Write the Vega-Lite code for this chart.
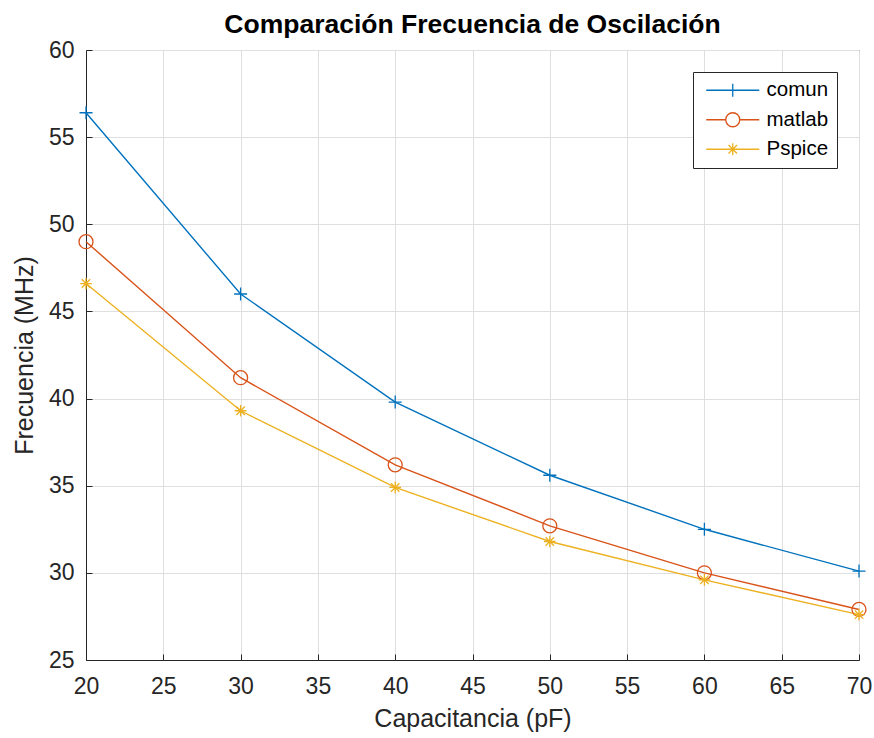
{
  "$schema": "https://vega.github.io/schema/vega-lite/v6.json",
  "width": 773,
  "height": 610,
  "autosize": {"type": "none"},
  "padding": {"left": 86, "top": 50, "right": 15, "bottom": 78},
  "background": "white",
  "title": {
    "text": "Comparación Frecuencia de Oscilación",
    "font": "Liberation Sans",
    "fontSize": 26.5,
    "fontWeight": "bold",
    "color": "#000000",
    "anchor": "middle",
    "baseline": "alphabetic",
    "offset": -20
  },
  "config": {
    "view": {"stroke": "#262626", "strokeWidth": 1},
    "font": "Liberation Sans",
    "axis": {
      "domainColor": "#262626",
      "tickColor": "#262626",
      "labelColor": "#262626",
      "titleColor": "#262626",
      "labelFont": "Liberation Sans",
      "titleFont": "Liberation Sans",
      "labelFontSize": 23,
      "titleFontSize": 25,
      "titleFontWeight": "normal",
      "gridColor": "#dfdfdf",
      "gridWidth": 1,
      "tickSize": -6,
      "tickWidth": 1,
      "labelFlush": false
    }
  },
  "data": {
    "values": [
      {"C": 20, "f": 56.4, "serie": "comun"},
      {"C": 30, "f": 46.0, "serie": "comun"},
      {"C": 40, "f": 39.8, "serie": "comun"},
      {"C": 50, "f": 35.6, "serie": "comun"},
      {"C": 60, "f": 32.5, "serie": "comun"},
      {"C": 70, "f": 30.1, "serie": "comun"},
      {"C": 20, "f": 49.0, "serie": "matlab"},
      {"C": 30, "f": 41.2, "serie": "matlab"},
      {"C": 40, "f": 36.2, "serie": "matlab"},
      {"C": 50, "f": 32.7, "serie": "matlab"},
      {"C": 60, "f": 30.0, "serie": "matlab"},
      {"C": 70, "f": 27.9, "serie": "matlab"},
      {"C": 20, "f": 46.6, "serie": "Pspice"},
      {"C": 30, "f": 39.3, "serie": "Pspice"},
      {"C": 40, "f": 34.9, "serie": "Pspice"},
      {"C": 50, "f": 31.8, "serie": "Pspice"},
      {"C": 60, "f": 29.6, "serie": "Pspice"},
      {"C": 70, "f": 27.6, "serie": "Pspice"}
    ]
  },
  "encoding": {
    "x": {
      "field": "C", "type": "quantitative",
      "scale": {"domain": [20, 70], "nice": false, "zero": false},
      "axis": {
        "orient": "bottom",
        "title": "Capacitancia (pF)",
        "values": [20, 25, 30, 35, 40, 45, 50, 55, 60, 65, 70],
        "grid": true,
        "labelPadding": 21,
        "titlePadding": 8
      }
    },
    "y": {
      "field": "f", "type": "quantitative",
      "scale": {"domain": [25, 60], "nice": false, "zero": false},
      "axis": {
        "orient": "left",
        "title": "Frecuencia (MHz)",
        "values": [25, 30, 35, 40, 45, 50, 55, 60],
        "grid": true,
        "labelPadding": 18,
        "titlePadding": 11
      }
    }
  },
  "layer": [
    {
      "mark": {"type": "line", "strokeWidth": 1.4},
      "encoding": {
        "color": {
          "field": "serie", "type": "nominal",
          "scale": {"domain": ["comun", "matlab", "Pspice"], "range": ["#0072BD", "#D95319", "#EDB120"]},
          "legend": {
            "title": null,
            "orient": "top-right",
            "offset": 22,
            "padding": 8,
            "rowPadding": 8.5,
            "strokeColor": "#262626",
            "fillColor": "white",
            "labelFont": "Liberation Sans",
            "labelFontSize": 20.5,
            "labelColor": "#000000",
            "symbolSize": 100,
            "symbolStrokeWidth": 1.3,
            "labelOffset": 45,
            "encode": {
              "symbols": {
                "update": {
                  "shape": {"signal": "datum.value === 'comun' ? 'M-1,0H9.6M4.3,-1.3V1.3' : datum.value === 'matlab' ? 'M-1,0H2.9M5.7,0H9.6M5.7,0C5.7,0.773,5.073,1.4,4.3,1.4C3.527,1.4,2.9,0.773,2.9,0C2.9,-0.773,3.527,-1.4,4.3,-1.4C5.073,-1.4,5.7,-0.773,5.7,0Z' : 'M-1,0H9.6M4.3,-1.2V1.2M3.45,-0.85L5.15,0.85M3.45,0.85L5.15,-0.85'"},
                  "fill": {"value": "transparent"}
                }
              }
            }
          }
        }
      }
    },
    {
      "transform": [{"filter": "datum.serie === 'comun'"}],
      "mark": {"type": "point", "filled": false, "size": 169, "strokeWidth": 1.3, "opacity": 1, "shape": "M-1,0H1M0,-1V1"},
      "encoding": {
        "color": {"field": "serie", "type": "nominal", "legend": null}
      }
    },
    {
      "transform": [{"filter": "datum.serie === 'matlab'"}],
      "mark": {"type": "point", "filled": false, "size": 196, "strokeWidth": 1.3, "opacity": 1, "shape": "circle"},
      "encoding": {
        "color": {"field": "serie", "type": "nominal", "legend": null}
      }
    },
    {
      "transform": [{"filter": "datum.serie === 'Pspice'"}],
      "mark": {"type": "point", "filled": false, "size": 169, "strokeWidth": 1.3, "opacity": 1, "shape": "M-0.9,0H0.9M0,-0.9V0.9M-0.65,-0.65L0.65,0.65M-0.65,0.65L0.65,-0.65"},
      "encoding": {
        "color": {"field": "serie", "type": "nominal", "legend": null}
      }
    }
  ]
}
